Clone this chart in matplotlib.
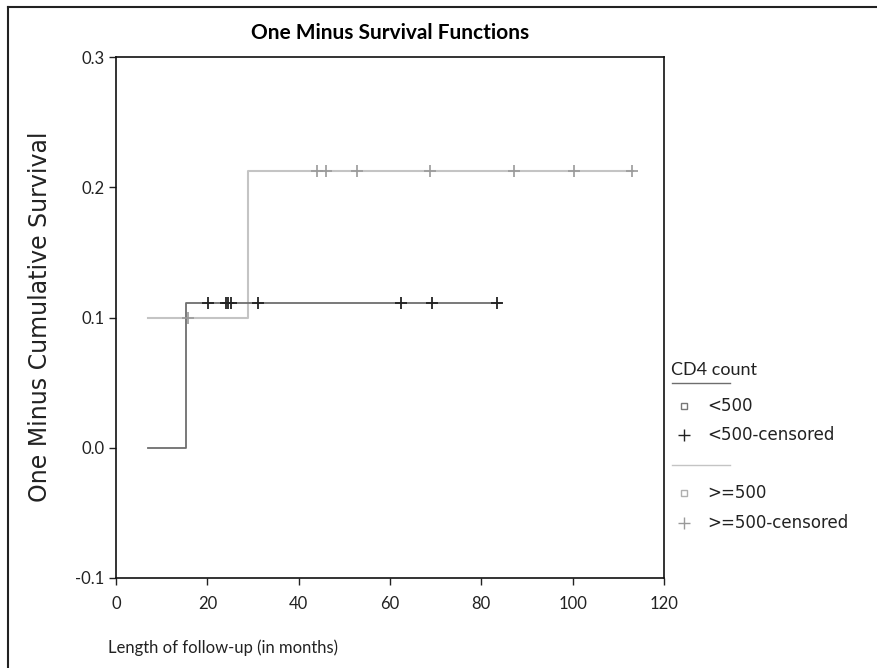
import matplotlib.pyplot as plt
from matplotlib.lines import Line2D

plt.rcParams['font.family'] = ['Lato', 'DejaVu Sans']

# CD4 < 500 : step curve and censored times
lo_times = [7, 15.3, 84.3]
lo_vals = [0.0, 0.111, 0.111]
lo_cens_t = [20.2, 24.1, 24.6, 25.1, 31.2, 62.3, 69.3, 83.4]
lo_cens_v = [0.111] * len(lo_cens_t)

# CD4 >= 500
hi_times = [7, 29.0, 113.2]
hi_vals = [0.1, 0.2125, 0.2125]
hi_cens_t = [15.8, 44.1, 45.9, 52.8, 68.7, 87.2, 100.2, 113.1]
hi_cens_v = [0.1, 0.2125, 0.2125, 0.2125, 0.2125, 0.2125, 0.2125, 0.2125]

xticks = [0, 20, 40, 60, 80, 100, 120]
yticks = [-0.1, 0.0, 0.1, 0.2, 0.3]
yticklabels = ['-0.1', '0.0', '0.1', '0.2', '0.3']

dark = '#6e6e6e'
light = '#c4c4c4'
lightmark = '#9a9a9a'
txt = '#222222'

fig = plt.figure(figsize=(8.77, 6.68), dpi=100)
ax = fig.add_axes([116/877, 1-578/668, (664-116)/877, (578-57)/668])

ax.step(hi_times, hi_vals, where='post', color=light, lw=1.5)
ax.step(lo_times, lo_vals, where='post', color=dark, lw=1.3)
ax.plot(hi_cens_t, hi_cens_v, ls='none', marker='+', ms=9, mew=1.2, color=lightmark)
ax.plot(lo_cens_t, lo_cens_v, ls='none', marker='+', ms=9, mew=1.3, color='#222222')

ax.set_xlim(0, 120)
ax.set_ylim(-0.1, 0.3)
ax.set_xticks(xticks)
ax.set_yticks(yticks)
ax.set_yticklabels(yticklabels)
ax.tick_params(direction='out', length=5, width=1, labelsize=12, colors=txt)
ax.tick_params(axis='x', pad=8)
for s in ax.spines.values():
    s.set_linewidth(1.2)
    s.set_color('#111111')

fig.text((116+664)/2/877, 1-33/668, 'One Minus Survival Functions', ha='center', va='center',
         fontsize=15, fontweight='bold')
fig.text(40/877, 1-317/668, 'One Minus Cumulative Survival', rotation=90, ha='center', va='center',
         fontsize=17, color=txt, family='DejaVu Sans')
fig.text(108/877, 1-648/668, 'Length of follow-up (in months)', ha='left', va='center',
         fontsize=12, color=txt)

# border lines (top, left)
fig.add_artist(Line2D([8/877, 8/877], [0, 1-7/668], transform=fig.transFigure, color=txt, lw=1.5))
fig.add_artist(Line2D([8/877, 1], [1-7/668, 1-7/668], transform=fig.transFigure, color=txt, lw=1.5))

# legend
fx = lambda px: px/877
fy = lambda py: 1-py/668
fig.text(fx(671), fy(370), 'CD4 count', fontsize=13, va='center', ha='left', color=txt)
fig.add_artist(Line2D([fx(672), fx(730)], [fy(383), fy(383)], transform=fig.transFigure, color=dark, lw=1))
fig.add_artist(Line2D([fx(684)], [fy(406)], transform=fig.transFigure, ls='none', marker='s', ms=4,
                      mfc='white', mec='#777777', mew=1))
fig.text(fx(707), fy(406), '<500', fontsize=12, va='center', ha='left', color=txt, family='DejaVu Sans')
fig.add_artist(Line2D([fx(684)], [fy(435)], transform=fig.transFigure, ls='none', marker='+', ms=9,
                      mew=1, color=txt))
fig.text(fx(707), fy(435), '<500-censored', fontsize=12, va='center', ha='left', color=txt,
         family='DejaVu Sans')
fig.add_artist(Line2D([fx(672), fx(730)], [fy(465), fy(465)], transform=fig.transFigure, color=light, lw=1))
fig.add_artist(Line2D([fx(684)], [fy(493)], transform=fig.transFigure, ls='none', marker='s', ms=4,
                      mfc='white', mec='#b0b0b0', mew=1))
fig.text(fx(707), fy(493), '>=500', fontsize=12, va='center', ha='left', color=txt, family='DejaVu Sans')
fig.add_artist(Line2D([fx(684)], [fy(523)], transform=fig.transFigure, ls='none', marker='+', ms=9,
                      mew=1, color=lightmark))
fig.text(fx(707), fy(523), '>=500-censored', fontsize=12, va='center', ha='left', color=txt,
         family='DejaVu Sans')

fig.savefig('out.png', dpi=100)
